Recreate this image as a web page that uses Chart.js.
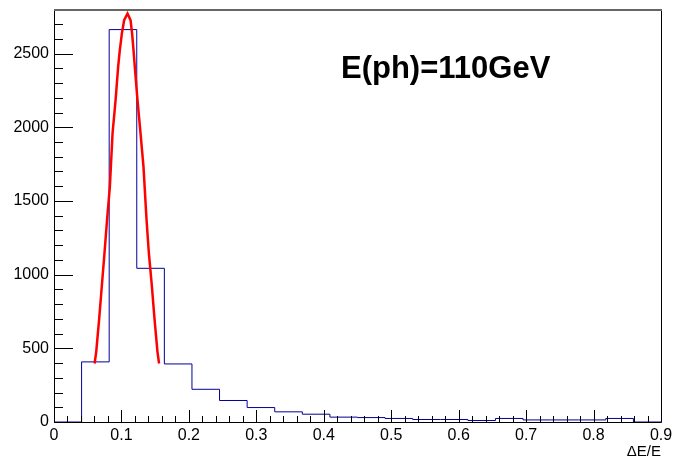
<!DOCTYPE html>
<html>
<head>
<meta charset="utf-8">
<script src="https://cdn.jsdelivr.net/npm/chart.js@4/dist/chart.umd.min.js"></script>
<style>
  html, body { margin: 0; padding: 0; background: #fff; }
  #c { display: block; }
</style>
</head>
<body>
<canvas id="c" width="675" height="458"></canvas>
<script>
// histogramme dE/E, 22 bins entre 0 et 0.9
const binLow = 0;
const binHigh = 0.9;
const binCounts = [0, 408, 2663, 1043, 394, 222, 146, 98, 69, 53, 33, 30, 24, 17, 17, 10, 24, 14, 14, 14, 24, 0];

// courbe du fit gaussien
const fitX = [0.0602, 0.0626, 0.0670, 0.0710, 0.0750, 0.0788, 0.0828, 0.0868, 0.0913, 0.0951, 0.0976, 0.1006, 0.1040, 0.1090,
              0.1135, 0.1158, 0.1179, 0.1198, 0.1238, 0.1283, 0.1327, 0.1371, 0.1405, 0.1450, 0.1490, 0.1534, 0.1558];
const fitY = [397, 476, 702, 928, 1154, 1381, 1595, 1958, 2184, 2410, 2523, 2636, 2727, 2772,
              2727, 2636, 2523, 2410, 2184, 1958, 1731, 1381, 1154, 928, 702, 476, 397];

const xTickValues = [0, 0.1, 0.2, 0.3, 0.4, 0.5, 0.6, 0.7, 0.8, 0.9];
const yTickValues = [0, 500, 1000, 1500, 2000, 2500];
const yMax = 2796;
const xTitle = 'ΔE/E';
const label = 'E(ph)=110GeV';

const FONT = '"Liberation Sans", Arial, Helvetica, sans-serif';

const binWidth = (binHigh - binLow) / binCounts.length;
const histPoints = binCounts.map((c, i) => ({ x: binLow + i * binWidth, y: c }));
histPoints.push({ x: binHigh, y: binCounts[binCounts.length - 1] });
const fitPoints = fitX.map((x, i) => ({ x, y: fitY[i] }));

// cadre + graduations vers l'intérieur, façon ROOT
const rootAxes = {
  id: 'rootAxes',
  afterDraw(chart) {
    const { ctx, chartArea: a, scales: { x, y } } = chart;
    ctx.save();
    ctx.strokeStyle = '#000';
    ctx.lineWidth = 1;
    ctx.beginPath();
    ctx.moveTo(a.left + 0.5, a.top);
    ctx.lineTo(a.left + 0.5, a.bottom + 0.5);
    ctx.lineTo(a.right + 0.5, a.bottom + 0.5);
    ctx.lineTo(a.right + 0.5, a.top);
    ctx.stroke();
    ctx.strokeStyle = '#666';
    ctx.lineWidth = 2;
    ctx.beginPath();
    ctx.moveTo(a.left, a.top);
    ctx.lineTo(a.right + 1, a.top);
    ctx.stroke();

    ctx.strokeStyle = '#000';
    ctx.lineWidth = 1;
    ctx.beginPath();
    for (let k = 0; k <= 45; k++) {
      const px = Math.round(x.getPixelForValue(k * 0.02)) + 0.5;
      const len = k % 5 === 0 ? 12 : 6;
      ctx.moveTo(px, a.bottom);
      ctx.lineTo(px, a.bottom - len);
    }
    for (let k = 0; k * 100 <= yMax; k++) {
      const py = Math.round(y.getPixelForValue(k * 100)) + 0.5;
      const len = k % 5 === 0 ? 19 : 9;
      ctx.moveTo(a.left, py);
      ctx.lineTo(a.left + len, py);
    }
    ctx.stroke();

    ctx.fillStyle = '#000';
    ctx.font = 'bold 31px ' + FONT;
    ctx.textAlign = 'left';
    ctx.textBaseline = 'alphabetic';
    ctx.fillText(label, 341, 78);

    ctx.font = '15px ' + FONT;
    ctx.textAlign = 'right';
    ctx.fillText(xTitle, a.right, 456);
    ctx.restore();
  }
};

new Chart(document.getElementById('c').getContext('2d'), {
  type: 'line',
  data: {
    datasets: [
      {
        data: fitPoints,
        borderColor: '#ff0000',
        borderWidth: 2.5,
        pointRadius: 0,
        tension: 0,
        order: 0
      },
      {
        data: histPoints,
        borderColor: '#000099',
        borderWidth: 1,
        pointRadius: 0,
        stepped: 'before',
        order: 1
      }
    ]
  },
  options: {
    responsive: false,
    animation: false,
    devicePixelRatio: 1,
    layout: { padding: { top: 10, right: 14, left: 0, bottom: 0 } },
    plugins: { legend: { display: false }, tooltip: { enabled: false } },
    scales: {
      x: {
        type: 'linear',
        min: binLow,
        max: binHigh,
        grid: { display: false, drawTicks: false },
        border: { display: false },
        afterBuildTicks: s => { s.ticks = xTickValues.map(v => ({ value: v })); },
        afterFit: s => { s.height = 36; s.paddingLeft = 0; s.paddingRight = 0; },
        ticks: {
          padding: 4,
          color: '#000',
          maxRotation: 0,
          autoSkip: false,
          font: { family: FONT, size: 16 },
          callback: v => String(+v.toFixed(1))
        }
      },
      y: {
        type: 'linear',
        min: 0,
        max: yMax,
        grid: { display: false, drawTicks: false },
        border: { display: false },
        afterBuildTicks: s => { s.ticks = yTickValues.map(v => ({ value: v })); },
        afterFit: s => { s.width = 54; s.paddingTop = 0; s.paddingBottom = 0; },
        ticks: {
          padding: 5,
          color: '#000',
          autoSkip: false,
          font: { family: FONT, size: 16 },
          callback: v => String(v)
        }
      }
    }
  },
  plugins: [rootAxes]
});
</script>
</body>
</html>
